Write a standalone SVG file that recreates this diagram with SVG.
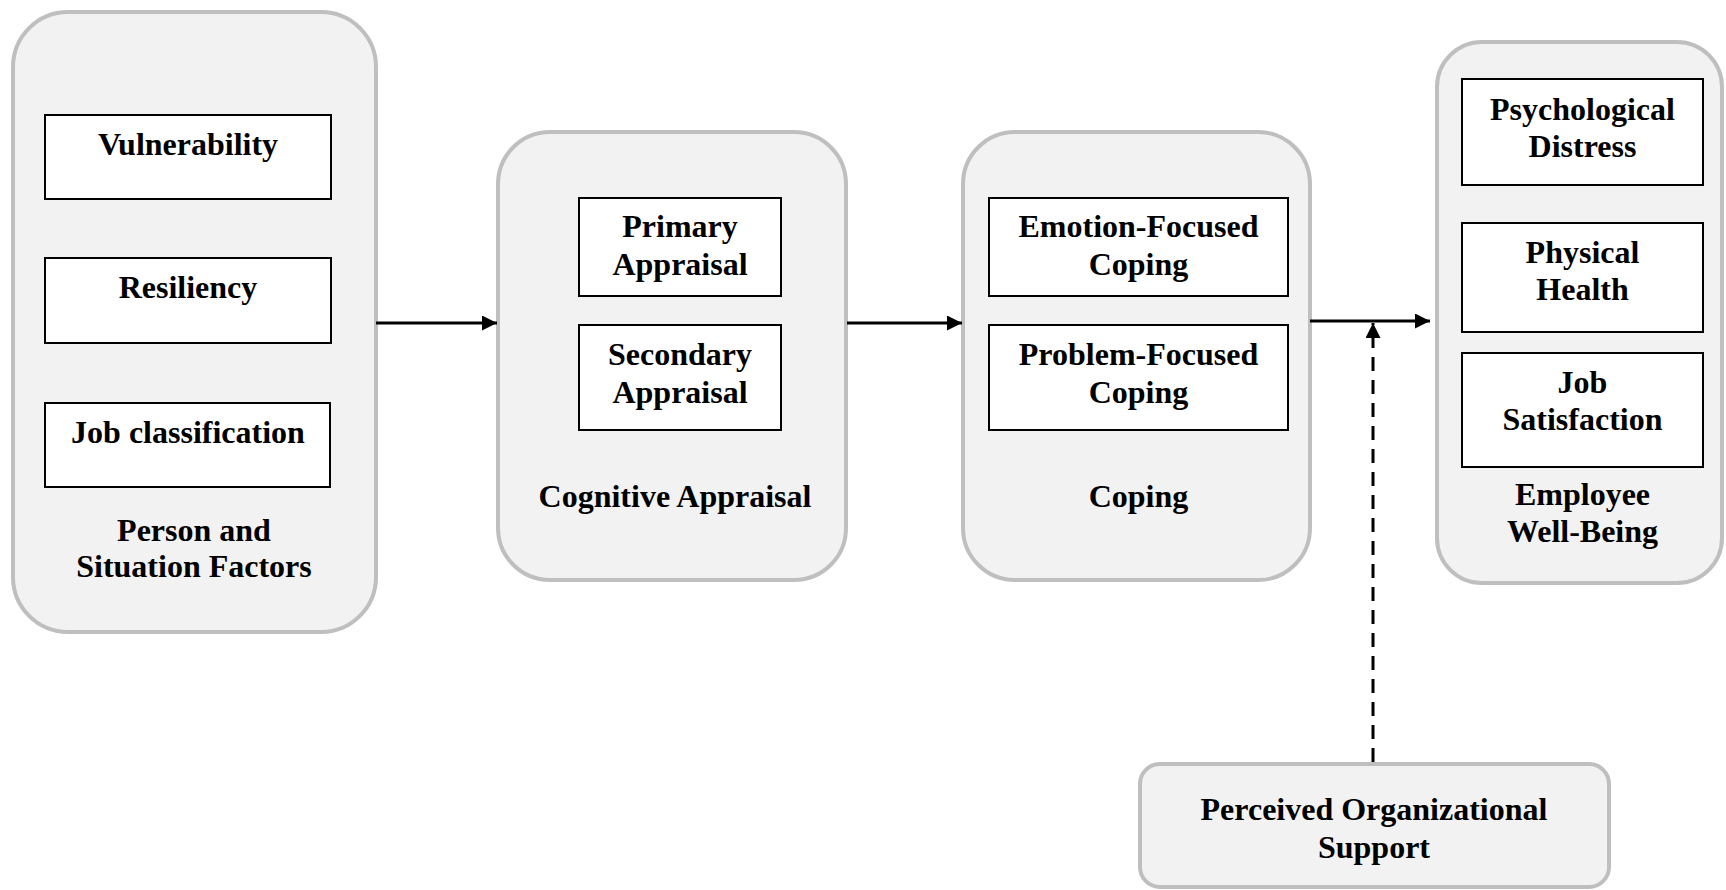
<svg xmlns="http://www.w3.org/2000/svg" width="1726" height="890" viewBox="0 0 1726 890">
<style>
.outer{fill:#f2f2f2;stroke:#bfbfbf;stroke-width:4}
.inner{fill:#ffffff;stroke:#000000;stroke-width:2}
text{font-family:"Liberation Serif","Times New Roman",serif;font-weight:bold;font-size:32px;fill:#000;text-anchor:middle}
.conn{stroke:#000;stroke-width:3;fill:none}
.dash{stroke-dasharray:14 9}
</style>
<defs>
<marker id="ah" markerUnits="userSpaceOnUse" markerWidth="15" markerHeight="15" refX="15" refY="7.5" orient="auto">
<path d="M0,0 L15,7.5 L0,15 z" fill="#000"/>
</marker>
</defs>
<rect width="1726" height="890" fill="#fff"/>
<g id="person-situation">
<rect class="outer" x="13" y="12" width="363" height="620" rx="55" ry="55"/>
<rect class="inner" x="45" y="115" width="286" height="84"/>
<text x="188" y="155">Vulnerability</text>
<rect class="inner" x="45" y="258" width="286" height="85"/>
<text x="188" y="298">Resiliency</text>
<rect class="inner" x="45" y="403" width="285" height="84"/>
<text x="188" y="443">Job classification</text>
<text x="194" y="541">Person and</text>
<text x="194" y="577">Situation Factors</text>
</g>
<g id="cognitive-appraisal">
<rect class="outer" x="498" y="132" width="348" height="448" rx="52" ry="52"/>
<rect class="inner" x="579" y="198" width="202" height="98"/>
<text x="680" y="237">Primary</text>
<text x="680" y="275">Appraisal</text>
<rect class="inner" x="579" y="325" width="202" height="105"/>
<text x="680" y="365">Secondary</text>
<text x="680" y="403">Appraisal</text>
<text x="675" y="507">Cognitive Appraisal</text>
</g>
<g id="coping">
<rect class="outer" x="963" y="132" width="347" height="448" rx="52" ry="52"/>
<rect class="inner" x="989" y="198" width="299" height="98"/>
<text x="1138.5" y="237">Emotion-Focused</text>
<text x="1138.5" y="275">Coping</text>
<rect class="inner" x="989" y="325" width="299" height="105"/>
<text x="1138.5" y="365">Problem-Focused</text>
<text x="1138.5" y="403">Coping</text>
<text x="1138.5" y="507">Coping</text>
</g>
<g id="employee-well-being">
<rect class="outer" x="1437" y="42" width="285" height="541" rx="45" ry="45"/>
<rect class="inner" x="1462" y="79" width="241" height="106"/>
<text x="1582.5" y="120">Psychological</text>
<text x="1582.5" y="157">Distress</text>
<rect class="inner" x="1462" y="223" width="241" height="109"/>
<text x="1582.5" y="263">Physical</text>
<text x="1582.5" y="300">Health</text>
<rect class="inner" x="1462" y="353" width="241" height="114"/>
<text x="1582.5" y="393">Job</text>
<text x="1582.5" y="430">Satisfaction</text>
<text x="1582.5" y="505">Employee</text>
<text x="1582.5" y="542">Well-Being</text>
</g>
<g id="perceived-organizational-support">
<rect class="outer" x="1140" y="764" width="469" height="123" rx="20" ry="20"/>
<text x="1374" y="820">Perceived Organizational</text>
<text x="1374" y="858">Support</text>
</g>
<g id="connectors">
<line class="conn" x1="376" y1="323" x2="497" y2="323" marker-end="url(#ah)"/>
<line class="conn" x1="847" y1="323" x2="962" y2="323" marker-end="url(#ah)"/>
<line class="conn" x1="1310" y1="321" x2="1430" y2="321" marker-end="url(#ah)"/>
<line class="conn dash" x1="1373" y1="762" x2="1373" y2="323" marker-end="url(#ah)"/>
</g>
</svg>
